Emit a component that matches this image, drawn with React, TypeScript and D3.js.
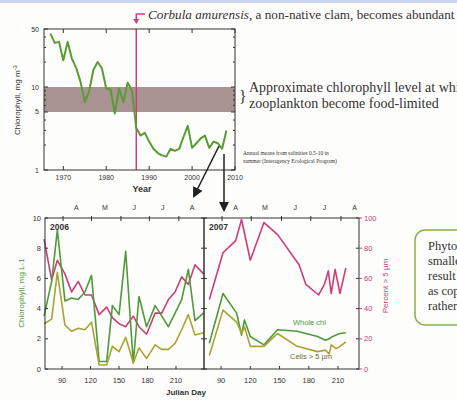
import React from 'react';
import * as d3 from 'd3';

// annual means (top panel)
const years = [1967, 1968, 1969, 1970, 1971, 1972, 1973, 1974, 1975, 1976, 1977, 1978, 1979, 1980, 1981, 1982, 1983, 1984, 1985, 1986, 1987, 1988, 1989, 1990, 1991, 1992, 1993, 1994, 1995, 1996, 1997, 1998, 1999, 2000, 2001, 2002, 2003, 2004, 2005, 2006, 2007, 2008];
const annualChl = [44, 34, 35, 21, 35, 22, 17, 11.6, 6.6, 8.8, 16, 20, 16.7, 9.6, 9.4, 4.8, 9.6, 6.6, 11.3, 9, 3.2, 2.6, 2.8, 2.2, 1.8, 1.6, 1.5, 1.45, 1.8, 1.7, 1.8, 2.5, 3.4, 1.85, 2.1, 2.4, 2.6, 1.85, 2.2, 2.1, 1.8, 3.0];
const yearTicks = [1970, 1980, 1990, 2000, 2010];
const logTicks = [1, 5, 10, 50];
const clamYear = 1987;

// 2006 panel
const days2006 = [71, 79, 85, 93, 100, 107, 114, 121, 129, 137, 143, 150, 157, 165, 171, 179, 188, 195, 202, 209, 216, 223, 230, 239];
const whole2006 = [3.5, 5.8, 9.2, 4.5, 4.7, 4.6, 5.1, 6.2, 0.5, 0.5, 4.2, 3.6, 7.8, 0.4, 4.8, 2.8, 4.2, 3.5, 2.8, 3.7, 4.6, 6.6, 3.2, 3.7];
const cells2006 = [3.0, 3.3, 6.4, 2.9, 2.5, 2.7, 2.6, 3.1, 0.26, 0.26, 1.5, 1.15, 2.1, 0.4, 1.4, 0.7, 1.6, 1.3, 1.3, 1.7, 2.6, 3.6, 2.25, 2.4];
const pct2006 = [86, 59, 72, 63, 51, 58, 49, 49, 36, 41, 34, 30, 28, 35, 28, 23, 37, 37, 46, 51, 61, 56, 69, 63];

// 2007 panel
const days2007 = [78, 92, 106, 111, 114, 120, 134, 148, 168, 189, 197, 201, 203, 208, 212, 218];
const whole2007 = [1.7, 5.0, 3.7, 2.25, 3.25, 2.15, 1.6, 2.6, 2.5, 2.15, 1.9, 2.0, 2.1, 2.25, 2.35, 2.4];
const cells2007 = [0.9, 3.9, 3.1, 2.35, 2.8, 1.5, 1.5, 2.35, 1.5, 1.15, 1.25, 1.0, 1.6, 1.35, 1.5, 1.8];
const pctDays2007 = [78, 92, 105, 111, 120, 134, 148, 170, 177, 190, 196, 200, 203, 207, 212, 218];
const pct2007 = [46, 77, 85, 99, 72, 97, 89, 69, 56, 49, 56, 65, 50, 66, 50, 67];

const dayTicks = [90, 120, 150, 180, 210];
const chlTicks = [0, 2, 4, 6, 8, 10];
const pctTicks = [0, 20, 40, 60, 80, 100];
const monthStarts = [91, 121, 152, 182, 213];
const monthMids = [105, 135, 166, 196, 227];
const monthLabels = ['A', 'M', 'J', 'J', 'A'];

const GREEN = '#4f9a3c';
const OLIVE = '#a9a431';
const PINK = '#cf3c7c';
const INK = '#333';
const sans = 'Liberation Sans, Arial, sans-serif';
const serif = 'Liberation Serif, Times New Roman, serif';

const TopChart = () => {
  const x = d3.scaleLinear().domain([1965.5, 2010]).range([44, 235]);
  const y = d3.scaleLog().domain([1, 50]).range([170, 29]);
  const line = d3.line<number>().x((d, i) => x(years[i])).y((d) => y(d));
  const minor = [2, 3, 4, 6, 7, 8, 9, 20, 30, 40];
  return (
    <g>
      <rect x={44} y={y(10)} width={191} height={y(5) - y(10)} fill="#a99292" />
      <line x1={x(clamYear)} x2={x(clamYear)} y1={29} y2={170} stroke={PINK} strokeWidth={1.5} />
      <path d={line(annualChl) || ''} fill="none" stroke="#5a9c34" strokeWidth={2} strokeLinejoin="round" />
      <rect x={44} y={29} width={191} height={141} fill="none" stroke={INK} strokeWidth={1} />
      {yearTicks.map((t) => (
        <g key={t}>
          <line x1={x(t)} x2={x(t)} y1={170} y2={166} stroke={INK} />
          <line x1={x(t)} x2={x(t)} y1={29} y2={33} stroke={INK} />
          <text x={x(t)} y={180} fontSize={7} fontFamily={sans} textAnchor="middle" fill={INK}>{t}</text>
        </g>
      ))}
      {logTicks.map((t) => (
        <g key={t}>
          <line x1={44} x2={48} y1={y(t)} y2={y(t)} stroke={INK} />
          <line x1={235} x2={231} y1={y(t)} y2={y(t)} stroke={INK} />
          <text x={39} y={y(t) + 2.5} fontSize={7} fontFamily={sans} textAnchor="end" fill={INK}>{t}</text>
        </g>
      ))}
      {minor.map((t) => (
        <g key={t}>
          <line x1={44} x2={46} y1={y(t)} y2={y(t)} stroke={INK} />
          <line x1={235} x2={233} y1={y(t)} y2={y(t)} stroke={INK} />
        </g>
      ))}
      <text transform="translate(20,100) rotate(-90)" fontSize={8} fontFamily={sans} textAnchor="middle" fill={INK}>
        Chlorophyll, mg m<tspan dy={-3} fontSize={6}>-3</tspan>
      </text>
      <text x={142} y={192} fontSize={9} fontFamily={sans} fontWeight="bold" textAnchor="middle" fill={INK}>Year</text>
      {/* clam annotation */}
      <path d={`M145,14 H${x(clamYear)} V21`} fill="none" stroke={PINK} strokeWidth={1.5} />
      <path d={`M${x(clamYear) - 3},19 L${x(clamYear)},24 L${x(clamYear) + 3},19 Z`} fill={PINK} />
      <text x={148} y={19} fontSize={13.2} fontFamily={serif} fill={INK}>
        <tspan fontStyle="italic">Corbula amurensis</tspan>, a non-native clam, becomes abundant
      </text>
      <text x={239} y={y(7.5) + 5} fontSize={16} fontFamily={serif} fill={INK}>{'}'}</text>
      <text x={249} y={92} fontSize={14} fontFamily={serif} fill={INK}>Approximate chlorophyll level at which</text>
      <text x={249} y={108} fontSize={14} fontFamily={serif} fill={INK}>zooplankton become food-limited</text>
      <text x={243} y={155} fontSize={5.5} fontFamily={serif} fill={INK}>Annual means from salinities 0.5-10 in</text>
      <text x={243} y={163} fontSize={5.5} fontFamily={serif} fill={INK}>summer (Interagency Ecological Program)</text>
    </g>
  );
};

type PanelProps = {
  left: number;
  right: number;
  domain: [number, number];
  label: string;
  showLeft: boolean;
  showRight: boolean;
  whole: number[];
  wholeDays: number[];
  cells: number[];
  pct: number[];
  pctDays: number[];
};

const Panel = (p: PanelProps) => {
  const top = 218;
  const bottom = 369;
  const x = d3.scaleLinear().domain(p.domain).range([p.left, p.right]);
  const yc = d3.scaleLinear().domain([0, 10]).range([bottom, top]);
  const yp = d3.scaleLinear().domain([0, 100]).range([bottom, top]);
  const mk = (days: number[], sc: d3.ScaleLinear<number, number>) =>
    d3.line<number>().x((d, i) => x(days[i])).y((d) => sc(d));
  return (
    <g>
      <path d={mk(p.pctDays, yp)(p.pct) || ''} fill="none" stroke={PINK} strokeWidth={1.6} strokeLinejoin="round" />
      <path d={mk(p.wholeDays, yc)(p.whole) || ''} fill="none" stroke={GREEN} strokeWidth={1.6} strokeLinejoin="round" />
      <path d={mk(p.wholeDays, yc)(p.cells) || ''} fill="none" stroke={OLIVE} strokeWidth={1.6} strokeLinejoin="round" />
      <rect x={p.left} y={top} width={p.right - p.left} height={bottom - top} fill="none" stroke={INK} strokeWidth={1} />
      {dayTicks.map((t) => (
        <g key={t}>
          <line x1={x(t)} x2={x(t)} y1={bottom} y2={bottom - 3} stroke={INK} />
          <text x={x(t)} y={383} fontSize={7.5} fontFamily={sans} textAnchor="middle" fill={INK}>{t}</text>
        </g>
      ))}
      {monthStarts.filter((t) => x(t) < p.right).map((t) => (
        <line key={t} x1={x(t)} x2={x(t)} y1={top - 2} y2={top + 3} stroke={INK} />
      ))}
      {monthMids.map((t, i) => (
        <text key={t} x={x(t)} y={210} fontSize={7} fontFamily={sans} textAnchor="middle" fill={INK}>{monthLabels[i]}</text>
      ))}
      {chlTicks.map((t) => (
        <g key={t}>
          <line x1={p.left} x2={p.left + 3} y1={yc(t)} y2={yc(t)} stroke={INK} />
          {p.showLeft && (
            <text x={p.left - 4} y={yc(t) + 2.5} fontSize={7.5} fontFamily={sans} textAnchor="end" fill={INK}>{t}</text>
          )}
        </g>
      ))}
      {pctTicks.map((t) => (
        <g key={t}>
          <line x1={p.right} x2={p.right - 3} y1={yp(t)} y2={yp(t)} stroke={INK} />
          {p.showRight && (
            <>
              <line x1={p.right} x2={p.right + 3} y1={yp(t)} y2={yp(t)} stroke={PINK} />
              <text x={p.right + 5} y={yp(t) + 2.5} fontSize={7.5} fontFamily={sans} fill={PINK}>{t}</text>
            </>
          )}
        </g>
      ))}
      <text x={p.left + 5} y={top + 12} fontSize={8.5} fontFamily={sans} fontWeight="bold" fill={INK}>{p.label}</text>
    </g>
  );
};

const App = () => {
  return (
    <svg width={457} height={400} style={{ position: 'absolute', left: 0, top: 0, background: '#fdfdfb' }}>
      <defs>
        <marker id="ah" viewBox="0 0 10 10" refX="8" refY="5" markerWidth="7" markerHeight="7" orient="auto">
          <path d="M0,0 L10,5 L0,10 Z" fill="#222" />
        </marker>
      </defs>
      <rect x={0} y={0} width={457} height={3} fill="#c9d8ee" />
      <TopChart />
      <line x1={219} y1={146} x2={194} y2={196} stroke="#222" strokeWidth={1.5} markerEnd="url(#ah)" />
      <line x1={224} y1={154} x2={224} y2={210} stroke="#222" strokeWidth={1.5} markerEnd="url(#ah)" />
      <Panel left={45} right={204} domain={[72, 239.5]} label="2006" showLeft showRight={false}
        whole={whole2006} wholeDays={days2006} cells={cells2006} pct={pct2006} pctDays={days2006} />
      <Panel left={204} right={359} domain={[72.5, 231.5]} label="2007" showLeft={false} showRight
        whole={whole2007} wholeDays={days2007} cells={cells2007} pct={pct2007} pctDays={pctDays2007} />
      <text x={293} y={325} fontSize={7.5} fontFamily={sans} fill={GREEN}>Whole chl</text>
      <text x={290} y={359} fontSize={7.5} fontFamily={sans} fill="#6b6a2a">Cells &gt; 5 µm</text>
      <text transform="translate(24,293) rotate(-90)" fontSize={8} fontFamily={sans} textAnchor="middle" fill={GREEN}>Chlorophyll, mg L-1</text>
      <text transform="translate(388,286) rotate(-90)" fontSize={8} fontFamily={sans} textAnchor="middle" fill={PINK}>Percent &gt; 5 µm</text>
      <text x={186} y={395} fontSize={8} fontFamily={sans} fontWeight="bold" textAnchor="middle" fill={INK}>Julian Day</text>
      <rect x={415} y={230} width={70} height={95} rx={10} fill="none" stroke="#8ab04a" strokeWidth={1.5} />
      <text fontSize={12.5} fontFamily={serif} fill={INK}>
        <tspan x={428} y={250}>Phytoplankton</tspan>
        <tspan x={428} y={265}>smaller</tspan>
        <tspan x={428} y={280}>result</tspan>
        <tspan x={428} y={295}>as copepods</tspan>
        <tspan x={428} y={310}>rather</tspan>
      </text>
    </svg>
  );
};

export default App;
